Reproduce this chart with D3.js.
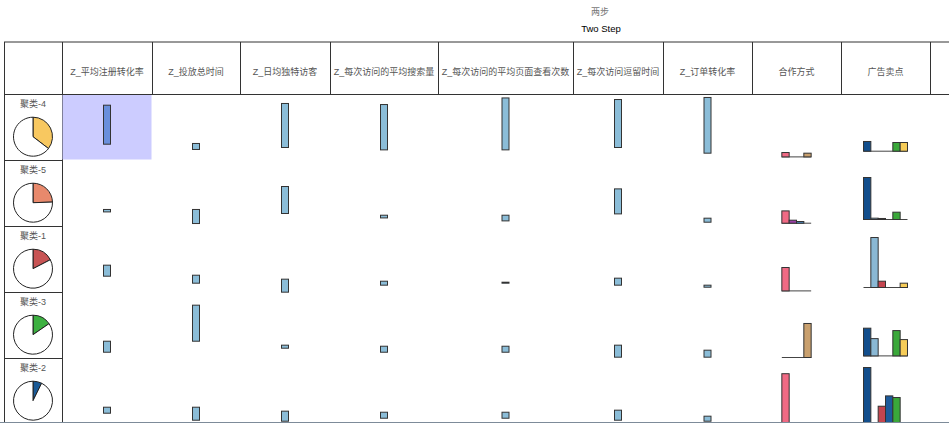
<!DOCTYPE html>
<html><head><meta charset="utf-8">
<script src="https://cdn.jsdelivr.net/npm/d3@7"></script>
<style>body{margin:0;background:#fff}svg{display:block}</style>
</head><body>
<svg id="c" width="949" height="423"></svg>
<script>
// ---------- DATA ----------
const titleTop = "两步";
const titleMain = "Two Step";
const clusters = ["聚类-4", "聚类-5", "聚类-1", "聚类-3", "聚类-2"];
const clusterShare = [35.4, 24.5, 17.4, 15.4, 7.3];
const zFeatures = ["Z_平均注册转化率", "Z_投放总时间", "Z_日均独特访客", "Z_每次访问的平均搜索量",
  "Z_每次访问的平均页面查看次数", "Z_每次访问逗留时间", "Z_订单转化率"];
const catFeatures = ["合作方式", "广告卖点"];
// z feature bars: low / high ends (0..100 of cell height)
const zLow = [
  [24.7, 16.7, 19.7, 16.1, 16.1, 19.7, 11.1],
  [22.1, 4.5, 19.7, 13.0, 8.5, 19.1, 6.5],
  [24.7, 14.1, 0.5, 11.1, 14.1, 11.1, 8.0],
  [9.5, 26.2, 15.6, 9.5, 9.5, 2.0, 2.0],
  [17.1, 6.5, 5.0, 9.5, 9.5, 6.5, 5.0]
];
const zHigh = [
  [83.8, 25.8, 86.4, 84.8, 94.8, 92.4, 95.5],
  [25.8, 25.8, 60.6, 17.1, 17.1, 57.0, 12.6],
  [41.4, 26.2, 20.2, 17.1, 15.6, 21.7, 11.1],
  [26.2, 80.8, 20.2, 18.6, 18.6, 20.2, 12.6],
  [26.2, 26.2, 20.2, 18.6, 18.6, 21.7, 12.6]
];
// 合作方式 categories distribution per cluster
const coopCats = ["A", "B", "C", "D"];
const coopValues = [
  [7.3, 0, 0, 6.2],
  [20.5, 5, 2.8, 0],
  [39, 0, 0, 0],
  [0, 0, 0, 56.7],
  [83, 0, 0, 0]
];
// 广告卖点 categories distribution per cluster
const adCats = ["A", "B", "C", "D", "E", "F"];
const adValues = [
  [16.2, 0, 0, 0, 14.5, 14.5],
  [70, 2.2, 1.7, 0, 12.2, 0],
  [0, 83.3, 10.5, 0, 0, 7.2],
  [46.2, 28.8, 0, 0, 42.2, 27.2],
  [93.3, 0, 28.8, 46, 43.3, 0]
];

// ---------- LAYOUT / STYLE ----------
const clusterColors = ["#f8c860", "#e8896c", "#c85454", "#3cb040", "#1a5a96"];
const coopColors = ["#f06a84", "#9a3fa6", "#4c93d0", "#c9a06e"];
const adColors = ["#124e8c", "#8ab8d4", "#c4454f", "#1d5a9a", "#3aa83a", "#f6cc58"];
const colEdges = [4, 62, 152, 240, 330, 438, 573, 663, 752, 841, 930, 1020];
const headerTop = 42, headerBottom = 94.5, rowH = 66;
const coopInset = [3.6, 3.3, 1.6, 1.0, 1.0];
const adInset = [9.3, 7, 5, 2.6, 1.0];
const font = "'Liberation Sans','Noto Sans CJK SC',sans-serif";

const svg = d3.select("#c");
svg.append("rect").attr("width", 949).attr("height", 423).attr("fill", "#fff");

// title
svg.append("text").attr("x", 600).attr("y", 15).attr("text-anchor", "middle")
  .attr("font-family", font).attr("font-size", 9).attr("fill", "#777").text(titleTop);
svg.append("text").attr("x", 601).attr("y", 32).attr("text-anchor", "middle")
  .attr("font-family", font).attr("font-size", 9.5).attr("fill", "#000").text(titleMain);

const headers = ["", ...zFeatures, ...catFeatures, ""];
const hdr = svg.append("g");
hdr.append("line").attr("x1", colEdges[0]).attr("x2", 949).attr("y1", headerTop).attr("y2", headerTop).attr("stroke", "#333");
hdr.append("line").attr("x1", colEdges[0]).attr("x2", 949).attr("y1", headerBottom).attr("y2", headerBottom).attr("stroke", "#333");
colEdges.forEach(x => hdr.append("line").attr("x1", x + 0.5).attr("x2", x + 0.5)
  .attr("y1", headerTop).attr("y2", headerBottom).attr("stroke", "#333"));
headers.forEach((h, i) => {
  hdr.append("text").attr("x", (colEdges[i] + colEdges[i + 1]) / 2).attr("y", 75)
    .attr("text-anchor", "middle").attr("font-family", font).attr("font-size", 9)
    .attr("fill", "#555").text(h);
});

const arc = d3.arc().innerRadius(0).outerRadius(19.5);
const pie = d3.pie().sort(null).value(d => d);

clusters.forEach((cl, r) => {
  const top = headerBottom + r * rowH, bottom = top + rowH;
  const g = svg.append("g");
  g.append("rect").attr("x", colEdges[0] + 0.5).attr("y", top).attr("width", colEdges[1] - colEdges[0])
    .attr("height", rowH).attr("fill", "none").attr("stroke", "#333");
  g.append("text").attr("x", 33).attr("y", top + 12.5).attr("text-anchor", "middle")
    .attr("font-family", font).attr("font-size", 9).attr("fill", "#555").text(cl);
  const pg = g.append("g").attr("transform", `translate(33,${top + 42.2})`);
  pg.selectAll("path").data(pie([clusterShare[r], 100 - clusterShare[r]])).join("path")
    .attr("d", arc).attr("fill", (d, i) => i === 0 ? clusterColors[r] : "#fff")
    .attr("stroke", "#222").attr("stroke-width", 1);

  const y = d3.scaleLinear().domain([0, 100]).range([bottom, top]);
  zFeatures.forEach((f, c) => {
    const x0 = colEdges[c + 1], x1 = colEdges[c + 2], cx = (x0 + x1) / 2;
    const sel = r === 0 && c === 0;
    if (sel) g.append("rect").attr("x", x0 + 0.5).attr("y", top + 0.5).attr("width", x1 - x0 - 1)
      .attr("height", rowH - 1.5).attr("fill", "#ccccff");
    g.append("rect").attr("x", cx - 3.5).attr("y", y(zHigh[r][c]))
      .attr("width", 7).attr("height", Math.max(1, y(zLow[r][c]) - y(zHigh[r][c])))
      .attr("fill", sel ? "#6a8fdc" : "#8bbdd8").attr("stroke", "#333").attr("stroke-width", 1);
  });

  const hScale = d3.scaleLinear().domain([0, 100]).range([0, 60]);
  [[coopCats, coopValues, coopColors, coopInset, 8], [adCats, adValues, adColors, adInset, 9]]
    .forEach(([cats, vals, cols, inset, ci]) => {
      const cx = (colEdges[ci] + colEdges[ci + 1]) / 2;
      const w = cats.length * 7.33;
      const xb = d3.scaleBand().domain(cats).range([cx - w / 2, cx + w / 2]).padding(0);
      const base = bottom - inset[r];
      g.append("line").attr("x1", cx - w / 2).attr("x2", cx + w / 2).attr("y1", base).attr("y2", base)
        .attr("stroke", "#444").attr("stroke-width", 1);
      cats.forEach((k, i) => {
        const v = vals[r][i];
        if (v <= 0) return;
        g.append("rect").attr("x", xb(k)).attr("y", base - hScale(v)).attr("width", xb.bandwidth())
          .attr("height", hScale(v)).attr("fill", cols[i]).attr("stroke", "#333").attr("stroke-width", 1);
      });
    });
});

svg.append("line").attr("x1", 0).attr("x2", 949).attr("y1", 422.5).attr("y2", 422.5)
  .attr("stroke", "#7d8b99").attr("stroke-width", 1);
</script>
</body></html>
